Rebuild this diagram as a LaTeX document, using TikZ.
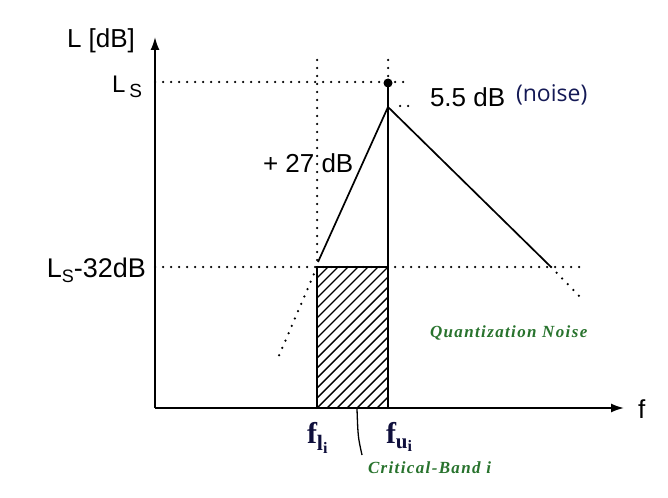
\documentclass[tikz,border=0pt]{standalone}
\usepackage{fontspec}
\setmainfont{Liberation Sans}
\newfontfamily\serifb{Liberation Serif}
\newfontfamily\greenf[LetterSpace=8]{Liberation Serif}
\newfontfamily\noisef{Open Sans}
\usetikzlibrary{arrows.meta}
\definecolor{bandgreen}{RGB}{40,115,45}
\definecolor{noisenavy}{RGB}{20,25,85}
\definecolor{fnavy}{RGB}{15,15,60}
\tikzset{
  axisline/.style={line width=1.8pt,-{Latex[length=13pt,width=9pt]}},
  graphline/.style={line width=1.7pt},
  dotline/.style={line width=2.5pt,line cap=round,dash pattern=on 0pt off 8pt},
  hatchline/.style={line width=1.4pt},
  lbl/.style={inner sep=0pt,outer sep=0pt},
  greenlbl/.style={lbl,text=bandgreen,font=\greenf\bfseries\itshape\fontsize{17}{20}\selectfont},
  flbl/.style={lbl,text=fnavy,font=\serifb\bfseries\fontsize{30}{34}\selectfont},
}
\begin{document}
\begin{tikzpicture}[x=1pt,y=-1pt]
\useasboundingbox[fill=white] (0,0) rectangle (668,497);
% coordinates
\coordinate (O) at (155,408);
\coordinate (ytip) at (155,37);
\coordinate (xtip) at (624,408);
\coordinate (ls) at (155,82);
\coordinate (ls32) at (155,267);
\coordinate (flbot) at (317,408);
\coordinate (fltop) at (317,267);
\coordinate (flhigh) at (317,60);
\coordinate (fubot) at (388,408);
\coordinate (futop) at (388,267);
\coordinate (fuhigh) at (388,60);
\coordinate (dotpt) at (388,83);
\coordinate (pk) at (388,107);
\coordinate (legl) at (318,262);
\coordinate (legr) at (551,267);
\coordinate (lsend) at (410,82);
\coordinate (ls32end) at (585,267);
\coordinate (ldotend) at (278,358);
\coordinate (rdotend) at (584,301);
\coordinate (pkdot1) at (400,106);
\coordinate (pkdot2) at (412,106);
\coordinate (cbtop) at (357,409);
\coordinate (cbbot) at (362,455);
% hatching
\begin{scope}
  \clip (fltop) rectangle (fubot);
  \foreach \k in {-170,-160,...,80}
    \draw[hatchline] (317+\k,408) -- ++(170,-170);
\end{scope}
% dotted guides
\draw[dotline] (ls) -- (lsend);
\draw[dotline] (ls32) -- (ls32end);
\draw[dotline] (flhigh) -- (fltop);
\draw[dotline] (fuhigh) -- (dotpt);
\draw[dotline] (fltop) -- (ldotend);
\draw[dotline] (legr) -- (rdotend);
\draw[dotline] (pkdot1) -- (pkdot2);
% box and lines
\draw[graphline] (fltop) rectangle (fubot);
\draw[graphline] (dotpt) -- (fubot);
\draw[graphline] (legl) -- (pk) -- (legr);
\fill (dotpt) circle (4.5pt);
% axes
\draw[axisline] (O) -- (ytip);
\draw[axisline] (O) -- (xtip);
% pointer
\draw[line width=1.3pt] (cbtop) .. controls (358,437) .. (cbbot);
% labels
\node[lbl,font=\fontsize{26}{30}\selectfont] (ylab) at (101,41) {L [dB]};
\node[lbl,anchor=base west,font=\fontsize{24}{28}\selectfont] (lslab) at (112,93) {L\hspace{4pt}\raisebox{-5pt}{\fontsize{19}{22}\selectfont S}};
\node[lbl,anchor=base east,font=\fontsize{27}{30}\selectfont] (ls32lab) at (146,277) {L\raisebox{-5pt}{\fontsize{18}{20}\selectfont S}-32dB};
\node[lbl,anchor=base west,font=\fontsize{26}{30}\selectfont] (plus27) at (263,172) {+ 27 dB};
\node[lbl,anchor=base west,font=\fontsize{26}{30}\selectfont] (db55) at (430,107) {5.5 dB};
\node[lbl,anchor=base west,text=noisenavy,font=\noisef\fontsize{23}{27}\selectfont] (noise) at (516,102) {(noise)};
\node[lbl,anchor=base west,font=\fontsize{26}{30}\selectfont] (flab) at (638,418) {f};
\node[flbl,anchor=base west] (fl) at (307,443) {f\raisebox{-7pt}{\fontsize{22}{24}\selectfont l\raisebox{-3pt}{\fontsize{16}{18}\selectfont i}}};
\node[flbl,anchor=base west] (fu) at (386,443) {f\raisebox{-5pt}{\fontsize{21}{24}\selectfont u\raisebox{-3pt}{\fontsize{16}{18}\selectfont i}}};
\node[greenlbl,anchor=base west] (qn) at (430,337) {Quantization Noise};
\node[greenlbl,anchor=base west] (cb) at (368,473) {Critical-Band i};
\end{tikzpicture}
\end{document}
